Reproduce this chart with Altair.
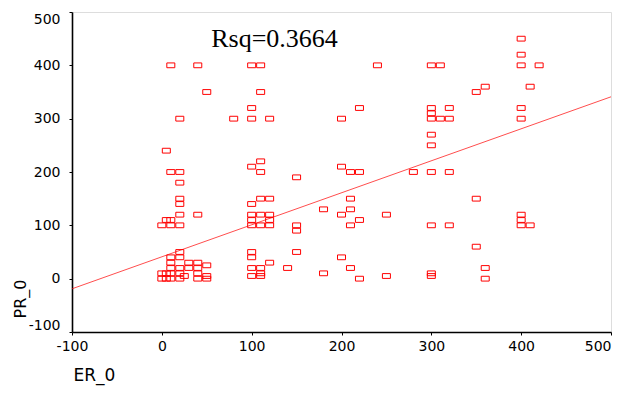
import altair as alt
import pandas as pd

# ER_0 (x) and PR_0 (y) values
er = [0, 0, 0,
      5, 5, 5, 5,
      10, 10, 10, 10, 10, 10, 10, 10, 10,
      20, 20, 20, 20, 20, 20, 20, 20, 20, 20, 20, 20,
      25,
      30, 30,
      40, 40, 40, 40, 40, 40,
      50, 50, 50, 50,
      80,
      100, 100, 100, 100, 100, 100, 100, 100, 100, 100, 100, 100,
      110, 110, 110, 110, 110, 110, 110, 110, 110, 110,
      120, 120, 120, 120, 120, 120,
      140,
      150, 150, 150, 150,
      180, 180,
      200, 200, 200, 200,
      210, 210, 210, 210, 210,
      220, 220, 220, 220,
      240,
      250, 250,
      280,
      300, 300, 300, 300, 300, 300, 300, 300, 300, 300,
      310, 310,
      320, 320, 320, 320,
      350, 350, 350,
      360, 360, 360,
      400, 400, 400, 400, 400, 400, 400, 400,
      410, 410,
      420]
pr = [100, 10, 0,
      240, 110, 10, 0,
      400, 200, 110, 100, 40, 30, 20, 10, 0,
      300, 200, 180, 150, 140, 120, 100, 50, 40, 20, 10, 0,
      5,
      30, 20,
      400, 120, 30, 20, 10, 0,
      350, 25, 5, 0,
      300,
      400, 320, 300, 210, 140, 120, 110, 100, 50, 40, 20, 5,
      400, 350, 220, 200, 150, 120, 100, 20, 10, 5,
      300, 150, 120, 110, 100, 30,
      20,
      190, 100, 90, 50,
      130, 10,
      300, 210, 120, 40,
      200, 150, 130, 100, 20,
      320, 200, 110, 0,
      400,
      120, 5,
      200,
      400, 320, 310, 300, 270, 250, 200, 100, 10, 5,
      400, 300,
      320, 300, 200, 100,
      350, 150, 60,
      360, 20, 0,
      450, 420, 400, 320, 300, 120, 110, 100,
      360, 100,
      400]

# fitted line
fit_intercept = 41.0
fit_slope = 0.6
fit_x = [-100, 500]

axis_ticks = [-100, 0, 100, 200, 300, 400, 500]
rsq_label = "Rsq=0.3664"
rsq_pos = (55, 435)

pts = pd.DataFrame({"ER_0": er, "PR_0": pr})
fit = pd.DataFrame({"ER_0": fit_x, "PR_0": [fit_intercept + fit_slope * v for v in fit_x]})
ann = pd.DataFrame({"ER_0": [rsq_pos[0]], "PR_0": [rsq_pos[1]], "t": [rsq_label]})

xs = alt.Scale(domain=[-100, 500], nice=False, zero=False)
ys = alt.Scale(domain=[-100, 500], nice=False, zero=False)

xaxis = alt.Axis(values=axis_ticks, grid=False, tickSize=3, labelPadding=15,
                 labelFlush=False, labelExpr="toString(datum.value)",
                 labelAlign=alt.expr("datum.value >= 500 ? 'right' : 'center'"),
                 labelBaseline="alphabetic", labelFont="DejaVu Sans", labelFontSize=14,
                 labelColor="black", domainColor="black", domainWidth=1.6,
                 tickColor="black", title="ER_0", titleFont="DejaVu Sans",
                 titleFontSize=17, titleFontWeight="normal", titleColor="black",
                 titleAnchor="start", titleAlign="left", titleBaseline="alphabetic",
                 titleX=1, titleY=48)
yaxis = alt.Axis(values=axis_ticks, grid=False, tickSize=3, labelPadding=9,
                 labelFlush=True, labelExpr="toString(datum.value)",
                 labelFont="DejaVu Sans", labelFontSize=14,
                 labelColor="black", domainColor="black", domainWidth=1.6,
                 tickColor="black", title="PR_0", titleFont="DejaVu Sans",
                 titleFontSize=16, titleFontWeight="normal", titleColor="black",
                 titleAngle=270, titleAlign="left", titleBaseline="alphabetic",
                 titleX=-47, titleY=306)

rect_shape = "M-1,-0.6H1V0.6H-1Z"

points = alt.Chart(pts).mark_point(
    shape=rect_shape, filled=False, color="#ff0000", strokeWidth=1, size=64, opacity=1
).encode(
    x=alt.X("ER_0:Q", scale=xs, axis=xaxis),
    y=alt.Y("PR_0:Q", scale=ys, axis=yaxis),
)

line = alt.Chart(fit).mark_line(color="#ff0000", strokeWidth=0.7, clip=True).encode(
    x=alt.X("ER_0:Q", scale=xs),
    y=alt.Y("PR_0:Q", scale=ys),
)

text = alt.Chart(ann).mark_text(
    align="left", baseline="alphabetic", font="Liberation Serif", fontSize=26, color="black"
).encode(
    x=alt.X("ER_0:Q", scale=xs),
    y=alt.Y("PR_0:Q", scale=ys),
    text="t:N",
)

chart = alt.layer(line, points, text).properties(
    width=539, height=320,
    autosize="none",
    padding={"left": 64, "top": 4, "right": 4, "bottom": 55},
).configure_view(stroke="black", strokeWidth=1).configure(background="white")

chart.save("out.html", embed_options={"renderer": "svg", "actions": False})
